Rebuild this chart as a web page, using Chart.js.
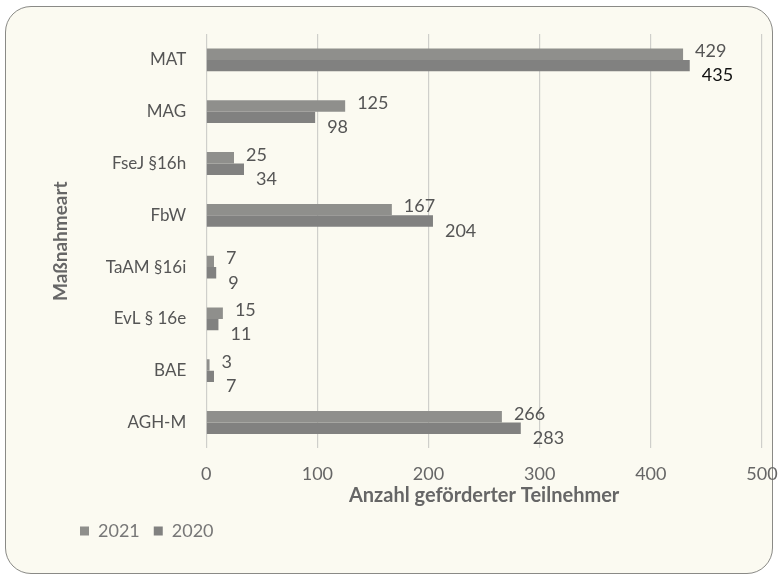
<!DOCTYPE html>
<html>
<head>
<meta charset="utf-8">
<script src="https://cdn.jsdelivr.net/npm/chart.js@4.4.1/dist/chart.umd.min.js"></script>
<style>
  html, body { margin: 0; padding: 0; background: #ffffff; }
  #wrap { position: relative; width: 780px; height: 580px; }
  #frame { position: absolute; left: 5px; top: 6px; width: 766px; height: 566px;
           border: 1.5px solid #8a8a86; border-radius: 26px; background: #fbfaf1; }
  canvas { position: absolute; left: 0; top: 0; }
</style>
</head>
<body>
<div id="wrap">
  <div id="frame"></div>
  <canvas id="c" width="780" height="580"></canvas>
</div>
<script>
const categories = ["MAT", "MAG", "FseJ §16h", "FbW", "TaAM §16i", "EvL § 16e", "BAE", "AGH-M"];
const values2021 = [429, 125, 25, 167, 7, 15, 3, 266];
const values2020 = [435, 98, 34, 204, 9, 11, 7, 283];
const seriesNames = ["2021", "2020"];
const xTicks = [0, 100, 200, 300, 400, 500];

const FONT = "Lato, 'Open Sans', sans-serif";

const valueLabels = {
  id: 'valueLabels',
  afterDatasetsDraw(chart) {
    const ctx = chart.ctx;
    ctx.save();
    ctx.font = "18px " + FONT;
    ctx.textAlign = 'left';
    ctx.textBaseline = 'middle';
    chart.data.datasets.forEach((ds, di) => {
      const meta = chart.getDatasetMeta(di);
      meta.data.forEach((el, i) => {
        const v = ds.data[i];
        const dy = di === 0 ? -3 : 10;
        ctx.fillStyle = (di === 1 && i === 0) ? '#111111' : '#555555';
        ctx.fillText(String(v), el.x + 12, el.y + dy);
      });
    });
    ctx.restore();
  }
};

new Chart(document.getElementById('c'), {
  type: 'bar',
  data: {
    labels: categories,
    datasets: [
      { label: seriesNames[0], data: values2021, backgroundColor: '#8f8f8c', borderWidth: 0,
        categoryPercentage: 0.44, barPercentage: 1.0 },
      { label: seriesNames[1], data: values2020, backgroundColor: '#818180', borderWidth: 0,
        categoryPercentage: 0.44, barPercentage: 1.0 }
    ]
  },
  options: {
    indexAxis: 'y',
    responsive: false,
    animation: false,
    devicePixelRatio: 1,
    layout: { padding: { left: 66, right: 18, top: 34, bottom: 30 } },
    scales: {
      x: {
        min: 0, max: 500,
        afterBuildTicks(scale) { scale.ticks = xTicks.map(v => ({ value: v })); },
        afterFit(scale) { scale.paddingRight = 0; },
        grid: { color: '#cfcfcb', lineWidth: 1.2, drawTicks: false },
        border: { display: false },
        ticks: { color: '#666666', font: { family: FONT, size: 18 }, padding: 15 },
        title: { display: true, text: 'Anzahl geförderter Teilnehmer', color: '#666666',
                 font: { family: FONT, size: 20, weight: 'bold' }, padding: { top: -16, bottom: 0 } }
      },
      y: {
        grid: { display: false },
        border: { display: false },
        ticks: { color: '#555555', font: { family: FONT, size: 17 }, padding: 12 },
        title: { display: true, text: 'Maßnahmeart', color: '#666666',
                 font: { family: FONT, size: 19, weight: 'bold' }, padding: { top: -17, bottom: 22 } }
      }
    },
    plugins: {
      legend: {
        position: 'bottom', align: 'start',
        labels: { boxWidth: 9, boxHeight: 9, padding: 14, color: '#777777',
                  font: { family: FONT, size: 18 } }
      },
      tooltip: { enabled: false }
    }
  },
  plugins: [valueLabels]
});
</script>
</body>
</html>
